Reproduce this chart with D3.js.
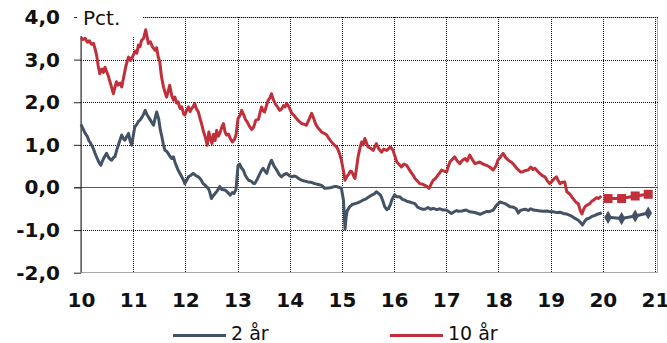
<!DOCTYPE html>
<html><head><meta charset="utf-8">
<script src="https://cdn.jsdelivr.net/npm/d3@7"></script>
<style>body{margin:0;background:#fff}svg{display:block}</style>
</head><body><div id="chart"></div>
<script>
const yTicks = [-2,-1,0,1,2,3,4];
const xTicks = [2010,2011,2012,2013,2014,2015,2016,2017,2018,2019,2020,2021];
const seriesNames = ["2 år","10 år"];
// 10-year yield: [year fraction, pct]
const tenYear = [[2010.00,3.52],[2010.04,3.47],[2010.08,3.50],[2010.12,3.41],[2010.16,3.44],[2010.20,3.36],[2010.24,3.38],[2010.27,3.25],[2010.30,3.10],[2010.33,2.85],[2010.36,2.67],[2010.40,2.78],[2010.43,2.70],[2010.46,2.82],[2010.49,2.72],[2010.52,2.63],[2010.55,2.50],[2010.58,2.38],[2010.62,2.20],[2010.65,2.35],[2010.68,2.48],[2010.71,2.40],[2010.75,2.45],[2010.78,2.36],[2010.82,2.60],[2010.86,2.85],[2010.91,3.06],[2010.95,2.98],[2011.00,3.10],[2011.04,3.20],[2011.07,3.15],[2011.10,3.34],[2011.13,3.30],[2011.16,3.45],[2011.20,3.50],[2011.24,3.70],[2011.27,3.52],[2011.29,3.38],[2011.33,3.42],[2011.37,3.30],[2011.42,3.22],[2011.45,3.28],[2011.48,3.06],[2011.51,2.95],[2011.54,2.62],[2011.58,2.36],[2011.62,2.20],[2011.64,2.12],[2011.67,2.25],[2011.70,2.40],[2011.74,2.15],[2011.77,2.05],[2011.80,2.12],[2011.83,1.98],[2011.86,2.01],[2011.90,1.85],[2011.93,1.89],[2011.97,1.72],[2011.99,1.70],[2012.03,1.82],[2012.06,1.89],[2012.09,1.78],[2012.12,1.85],[2012.15,1.90],[2012.18,1.97],[2012.21,1.85],[2012.25,1.77],[2012.28,1.62],[2012.31,1.50],[2012.35,1.30],[2012.38,1.19],[2012.42,0.99],[2012.45,1.30],[2012.48,1.15],[2012.51,1.03],[2012.54,1.25],[2012.57,1.10],[2012.60,1.34],[2012.63,1.20],[2012.66,1.27],[2012.70,1.42],[2012.73,1.50],[2012.76,1.30],[2012.79,1.23],[2012.83,1.25],[2012.86,1.15],[2012.90,1.07],[2012.94,1.12],[2012.97,1.23],[2013.01,1.62],[2013.05,1.70],[2013.08,1.81],[2013.12,1.70],[2013.15,1.60],[2013.18,1.55],[2013.22,1.45],[2013.27,1.36],[2013.31,1.42],[2013.35,1.58],[2013.40,1.60],[2013.43,1.75],[2013.46,1.89],[2013.49,1.80],[2013.52,1.77],[2013.56,1.95],[2013.59,2.05],[2013.62,2.10],[2013.65,2.20],[2013.68,2.08],[2013.72,1.97],[2013.76,1.90],[2013.81,1.81],[2013.85,1.85],[2013.88,1.92],[2013.91,1.89],[2013.94,1.97],[2013.97,1.92],[2014.00,1.85],[2014.04,1.74],[2014.09,1.68],[2014.13,1.62],[2014.18,1.55],[2014.23,1.50],[2014.28,1.48],[2014.32,1.46],[2014.37,1.60],[2014.42,1.74],[2014.46,1.62],[2014.50,1.48],[2014.54,1.40],[2014.58,1.35],[2014.61,1.30],[2014.66,1.27],[2014.71,1.23],[2014.75,1.15],[2014.80,1.07],[2014.85,1.00],[2014.90,0.95],[2014.94,0.85],[2014.99,0.64],[2015.02,0.45],[2015.06,0.17],[2015.09,0.25],[2015.12,0.29],[2015.16,0.38],[2015.19,0.37],[2015.22,0.28],[2015.25,0.21],[2015.28,0.45],[2015.31,0.72],[2015.35,0.95],[2015.38,1.07],[2015.41,1.00],[2015.44,1.15],[2015.47,1.05],[2015.50,0.95],[2015.55,0.92],[2015.60,0.87],[2015.63,0.95],[2015.66,1.03],[2015.70,0.92],[2015.73,0.87],[2015.76,0.83],[2015.80,0.90],[2015.86,0.87],[2015.90,0.92],[2015.93,0.95],[2015.98,0.87],[2016.02,0.72],[2016.05,0.60],[2016.09,0.55],[2016.14,0.48],[2016.19,0.55],[2016.24,0.52],[2016.29,0.42],[2016.34,0.33],[2016.37,0.28],[2016.40,0.21],[2016.45,0.15],[2016.49,0.09],[2016.54,0.08],[2016.59,0.05],[2016.63,0.02],[2016.67,-0.02],[2016.71,0.08],[2016.75,0.17],[2016.80,0.22],[2016.84,0.29],[2016.88,0.35],[2016.91,0.41],[2016.96,0.38],[2017.01,0.37],[2017.04,0.50],[2017.07,0.60],[2017.11,0.65],[2017.16,0.72],[2017.21,0.62],[2017.26,0.56],[2017.31,0.64],[2017.36,0.68],[2017.40,0.62],[2017.45,0.76],[2017.50,0.65],[2017.55,0.56],[2017.60,0.58],[2017.64,0.60],[2017.70,0.55],[2017.77,0.52],[2017.83,0.48],[2017.90,0.41],[2017.95,0.50],[2017.99,0.64],[2018.04,0.72],[2018.09,0.80],[2018.14,0.70],[2018.19,0.64],[2018.24,0.60],[2018.28,0.56],[2018.33,0.48],[2018.38,0.41],[2018.43,0.36],[2018.47,0.37],[2018.52,0.40],[2018.57,0.41],[2018.62,0.48],[2018.66,0.42],[2018.70,0.45],[2018.75,0.38],[2018.79,0.33],[2018.84,0.28],[2018.89,0.25],[2018.94,0.15],[2018.98,0.09],[2019.03,0.15],[2019.08,0.22],[2019.11,0.25],[2019.15,0.15],[2019.18,0.09],[2019.22,0.12],[2019.27,0.13],[2019.31,-0.10],[2019.37,-0.16],[2019.43,-0.26],[2019.48,-0.34],[2019.53,-0.38],[2019.57,-0.55],[2019.60,-0.62],[2019.63,-0.52],[2019.66,-0.45],[2019.69,-0.42],[2019.75,-0.38],[2019.79,-0.32],[2019.82,-0.30],[2019.88,-0.24],[2019.92,-0.26],[2019.97,-0.20]];
// 2-year yield
const twoYear = [[2010.00,1.48],[2010.03,1.40],[2010.06,1.32],[2010.08,1.27],[2010.12,1.20],[2010.15,1.10],[2010.17,1.07],[2010.21,0.98],[2010.24,0.90],[2010.27,0.80],[2010.31,0.68],[2010.34,0.60],[2010.38,0.52],[2010.41,0.62],[2010.45,0.72],[2010.49,0.80],[2010.53,0.70],[2010.56,0.66],[2010.59,0.64],[2010.62,0.70],[2010.65,0.72],[2010.69,0.90],[2010.73,1.05],[2010.78,1.23],[2010.81,1.15],[2010.84,1.11],[2010.88,1.20],[2010.91,1.27],[2010.94,1.10],[2010.97,0.99],[2011.00,1.20],[2011.03,1.42],[2011.07,1.48],[2011.10,1.55],[2011.13,1.58],[2011.17,1.65],[2011.20,1.72],[2011.23,1.81],[2011.26,1.72],[2011.29,1.66],[2011.33,1.58],[2011.36,1.52],[2011.39,1.46],[2011.42,1.62],[2011.45,1.77],[2011.49,1.60],[2011.52,1.35],[2011.55,1.19],[2011.58,1.00],[2011.61,0.87],[2011.64,0.85],[2011.67,0.80],[2011.70,0.74],[2011.74,0.68],[2011.77,0.72],[2011.80,0.60],[2011.83,0.50],[2011.86,0.41],[2011.90,0.32],[2011.93,0.25],[2011.96,0.18],[2011.99,0.09],[2012.03,0.18],[2012.06,0.25],[2012.10,0.28],[2012.15,0.33],[2012.20,0.28],[2012.25,0.25],[2012.30,0.18],[2012.34,0.09],[2012.39,0.04],[2012.44,-0.02],[2012.47,-0.12],[2012.50,-0.26],[2012.53,-0.20],[2012.57,-0.14],[2012.61,-0.08],[2012.66,0.02],[2012.70,-0.05],[2012.76,-0.06],[2012.80,-0.10],[2012.86,-0.18],[2012.90,-0.12],[2012.93,-0.14],[2012.97,-0.05],[2013.01,0.52],[2013.04,0.55],[2013.08,0.45],[2013.11,0.41],[2013.15,0.28],[2013.21,0.17],[2013.26,0.15],[2013.30,0.10],[2013.33,0.09],[2013.38,0.20],[2013.43,0.33],[2013.46,0.40],[2013.49,0.45],[2013.53,0.38],[2013.56,0.33],[2013.60,0.50],[2013.65,0.64],[2013.70,0.50],[2013.75,0.41],[2013.80,0.30],[2013.84,0.25],[2013.89,0.30],[2013.94,0.33],[2013.99,0.28],[2014.04,0.25],[2014.09,0.27],[2014.13,0.25],[2014.18,0.20],[2014.23,0.17],[2014.29,0.15],[2014.35,0.13],[2014.41,0.12],[2014.48,0.09],[2014.55,0.07],[2014.61,0.05],[2014.67,-0.02],[2014.74,-0.01],[2014.80,0.00],[2014.85,0.02],[2014.90,0.02],[2014.95,0.00],[2014.99,-0.02],[2015.03,-0.30],[2015.06,-0.98],[2015.08,-0.70],[2015.10,-0.55],[2015.15,-0.45],[2015.20,-0.40],[2015.25,-0.38],[2015.30,-0.36],[2015.34,-0.34],[2015.40,-0.30],[2015.47,-0.26],[2015.52,-0.22],[2015.57,-0.18],[2015.62,-0.15],[2015.66,-0.10],[2015.70,-0.14],[2015.74,-0.18],[2015.78,-0.30],[2015.82,-0.45],[2015.86,-0.52],[2015.89,-0.50],[2015.93,-0.40],[2015.96,-0.28],[2016.01,-0.17],[2016.05,-0.22],[2016.11,-0.22],[2016.16,-0.28],[2016.21,-0.30],[2016.26,-0.33],[2016.30,-0.34],[2016.35,-0.36],[2016.40,-0.38],[2016.45,-0.46],[2016.50,-0.49],[2016.55,-0.51],[2016.59,-0.51],[2016.65,-0.47],[2016.70,-0.51],[2016.75,-0.49],[2016.82,-0.52],[2016.88,-0.50],[2016.94,-0.53],[2017.00,-0.53],[2017.05,-0.57],[2017.10,-0.61],[2017.15,-0.57],[2017.20,-0.54],[2017.23,-0.56],[2017.30,-0.55],[2017.38,-0.53],[2017.45,-0.57],[2017.52,-0.58],[2017.58,-0.60],[2017.65,-0.63],[2017.72,-0.59],[2017.78,-0.56],[2017.81,-0.57],[2017.86,-0.55],[2017.90,-0.53],[2017.96,-0.42],[2018.03,-0.34],[2018.08,-0.36],[2018.13,-0.38],[2018.18,-0.42],[2018.22,-0.45],[2018.28,-0.46],[2018.34,-0.50],[2018.38,-0.60],[2018.42,-0.54],[2018.47,-0.52],[2018.51,-0.51],[2018.57,-0.54],[2018.62,-0.50],[2018.67,-0.53],[2018.74,-0.54],[2018.80,-0.55],[2018.86,-0.56],[2018.92,-0.55],[2019.00,-0.57],[2019.05,-0.57],[2019.12,-0.59],[2019.18,-0.58],[2019.24,-0.61],[2019.30,-0.62],[2019.36,-0.65],[2019.40,-0.67],[2019.46,-0.72],[2019.53,-0.77],[2019.57,-0.82],[2019.61,-0.88],[2019.65,-0.80],[2019.69,-0.74],[2019.74,-0.72],[2019.79,-0.68],[2019.84,-0.66],[2019.89,-0.63],[2019.95,-0.61],[2019.98,-0.59]];
// forecasts (quarterly, 2020)
const forecastDates = [2020.10,2020.36,2020.62,2020.87];
const tenYearForecast = [-0.26,-0.26,-0.20,-0.16];
const twoYearForecast = [-0.70,-0.73,-0.67,-0.60];

const W=667,H=343;
const red="#c0303b", blue="#435264";
const x=d3.scaleLinear().domain([2010,2021]).range([81,655]);
const y=d3.scaleLinear().domain([-2,4]).range([272.7,17]);
const svg=d3.select("#chart").append("svg").attr("width",W).attr("height",H);
const font="'DejaVu Sans', Verdana, sans-serif";

// plot border
svg.append("rect").attr("x",81.5).attr("y",17.5).attr("width",576).attr("height",255)
  .attr("fill","none").attr("stroke","#aaa").attr("stroke-width",1);
// horizontal gridlines
svg.append("g").selectAll("line").data(yTicks.filter(d=>d!==0&&d!==-2)).join("line")
  .attr("x1",81).attr("x2",658).attr("y1",d=>Math.round(y(d))+0.5).attr("y2",d=>Math.round(y(d))+0.5)
  .attr("stroke","#111").attr("stroke-dasharray","1,1");
// vertical gridlines
svg.append("g").selectAll("line").data(xTicks.slice(1)).join("line")
  .attr("x1",d=>Math.round(x(d))+0.5).attr("x2",d=>Math.round(x(d))+0.5).attr("y1",17).attr("y2",272.7)
  .attr("stroke","#111").attr("stroke-dasharray","1,1");
// zero line
svg.append("line").attr("x1",74).attr("x2",658).attr("y1",Math.round(y(0))+0.5).attr("y2",Math.round(y(0))+0.5)
  .attr("stroke","#555").attr("stroke-width",1.2);

// y axis
const yAxis=d3.axisLeft(y).tickValues(yTicks).tickSize(7).tickPadding(14)
  .tickFormat(d=>d3.format(".1f")(d).replace(".",",").replace("−","-"));
const gy=svg.append("g").attr("transform","translate(81,0)").call(yAxis);
gy.select(".domain").attr("stroke","#222").attr("d","M0,17V272.7");
gy.selectAll(".tick line").attr("stroke","#222");
gy.selectAll("text").attr("font-family",font).attr("font-weight","bold").attr("font-size",20).attr("fill","#111");

// x axis labels
const xAxis=d3.axisBottom(x).tickValues(xTicks).tickSize(0).tickPadding(20)
  .tickFormat(d=>String(d).slice(2));
const gx=svg.append("g").attr("transform","translate(0,272.7)").call(xAxis);
gx.select(".domain").remove();
gx.selectAll("text").attr("font-family",font).attr("font-weight","bold").attr("font-size",20).attr("fill","#111");

// Pct label with white background
svg.append("rect").attr("x",77).attr("y",0).attr("width",66).attr("height",36).attr("fill","#fff");
svg.append("text").attr("x",83).attr("y",25).attr("font-family",font).attr("font-size",20).attr("fill","#111").text("Pct.");

const line=d3.line().x(d=>x(d[0])).y(d=>y(d[1]));
svg.append("path").datum(twoYear).attr("d",line).attr("fill","none").attr("stroke",blue).attr("stroke-width",3).attr("stroke-linejoin","round");
svg.append("path").datum(tenYear).attr("d",line).attr("fill","none").attr("stroke",red).attr("stroke-width",3).attr("stroke-linejoin","round");

// forecasts
const f10=forecastDates.map((d,i)=>[d,tenYearForecast[i]]);
const f2=forecastDates.map((d,i)=>[d,twoYearForecast[i]]);
svg.append("path").datum(f10).attr("d",line).attr("fill","none").attr("stroke",red).attr("stroke-width",3);
svg.append("g").selectAll("rect").data(f10).join("rect")
  .attr("x",d=>x(d[0])-4.5).attr("y",d=>y(d[1])-4.5).attr("width",9).attr("height",9).attr("fill",red);
svg.append("path").datum(f2).attr("d",line).attr("fill","none").attr("stroke",blue).attr("stroke-width",3);
svg.append("g").selectAll("path").data(f2).join("path")
  .attr("d",d3.symbol(d3.symbolDiamond,50)).attr("transform",d=>`translate(${x(d[0])},${y(d[1])})`).attr("fill",blue);

// legend
const leg=[{name:seriesNames[0],c:blue,x:173},{name:seriesNames[1],c:red,x:390}];
leg.forEach(l=>{
  svg.append("line").attr("x1",l.x).attr("x2",l.x+53).attr("y1",335.5).attr("y2",335.5).attr("stroke",l.c).attr("stroke-width",3);
  svg.append("text").attr("x",l.x+58).attr("y",340).attr("font-family",font).attr("font-size",19).attr("fill","#111").text(l.name);
});
</script></body></html>
